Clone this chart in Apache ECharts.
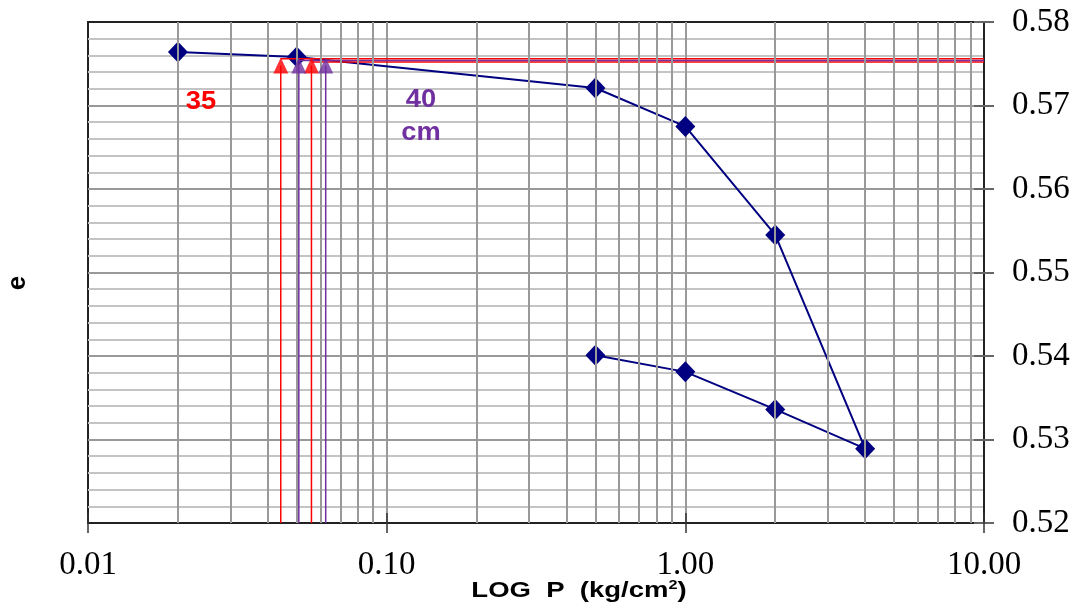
<!DOCTYPE html>
<html>
<head>
<meta charset="utf-8">
<script src="https://cdn.jsdelivr.net/npm/echarts@6/dist/echarts.min.js"></script>
<style>
  html, body { margin: 0; padding: 0; background: #fff; }
  #chart { width: 1083px; height: 610px; }
</style>
</head>
<body>
<div id="chart"></div>
<script>
  // consolidation curve, e vs log P
  const pressure = [0.02, 0.05, 0.5, 1, 2, 4, 2, 1, 0.5]
  const voidRatio = [0.5764, 0.5758, 0.5721, 0.5675, 0.5545, 0.5289, 0.5336, 0.5381, 0.5401]

  // construction lines (35 cm red, 40 cm purple)
  const redX = [0.0442, 0.056]
  const purpleX = [0.0508, 0.0625]
  const redLevel = [0.5756, 0.5752]
  const purpleLevel = 0.5754
  const arrowTop = 0.5748

  // minor log gridlines
  const minorGridX = [0.02, 0.03, 0.04, 0.05, 0.06, 0.07, 0.08, 0.09,
    0.2, 0.3, 0.4, 0.5, 0.6, 0.7, 0.8, 0.9,
    2, 3, 4, 5, 6, 7, 8, 9]

  const yTicks = { min: 0.52, max: 0.58, interval: 0.01 }
  const xTicks = { min: 0.01, max: 10 }

  const RED = '#ff0000'
  const PURPLE = '#7030a0'
  const NAVY = '#000080'

  const myChart = echarts.init(document.getElementById('chart'))

  let series = []
  // grid verticals behind everything
  series.push({
    type: 'line',
    data: [],
    silent: true,
    z: 1,
    markLine: {
      silent: true,
      symbol: 'none',
      label: { show: false },
      lineStyle: { color: '#999', width: 2, type: 'solid' },
      data: minorGridX.map((v) => ({ xAxis: v }))
    }
  })
  redX.forEach((x, i) => {
    series.push({
      type: 'line', z: 4, showSymbol: false, silent: true,
      lineStyle: { color: RED, width: 1.5 },
      data: [[x, yTicks.min], [x, arrowTop]]
    })
    series.push({
      type: 'line', z: 4, showSymbol: false, silent: true,
      lineStyle: { color: RED, width: 1.5 },
      data: [[x, redLevel[i]], [xTicks.max, redLevel[i]]]
    })
  })
  purpleX.forEach((x) => {
    series.push({
      type: 'line', z: 4, showSymbol: false, silent: true,
      lineStyle: { color: PURPLE, width: 1.5 },
      data: [[x, yTicks.min], [x, arrowTop]]
    })
  })
  series.push({
    type: 'line', z: 4, showSymbol: false, silent: true,
    lineStyle: { color: PURPLE, width: 1.5 },
    data: [[purpleX[0], purpleLevel], [xTicks.max, purpleLevel]]
  })
  series.push({
    type: 'line',
    z: 3,
    symbol: 'diamond',
    symbolSize: [20, 21],
    showAllSymbol: true,
    itemStyle: { color: NAVY, borderWidth: 0 },
    lineStyle: { color: NAVY, width: 2 },
    data: pressure.map((p, i) => [p, voidRatio[i]])
  })
  series.push({
    type: 'scatter', z: 6, silent: true,
    symbol: 'triangle', symbolSize: [15, 16],
    itemStyle: { color: RED },
    data: redX.map((x) => [x, arrowTop])
  })
  series.push({
    type: 'scatter', z: 6, silent: true,
    symbol: 'triangle', symbolSize: [15, 16],
    itemStyle: { color: PURPLE },
    data: purpleX.map((x) => [x, arrowTop])
  })

  const tickFont = { color: '#000', fontFamily: 'Liberation Serif', fontSize: 33 }

  let option = {
    animation: false,
    grid: {
      left: 88, right: 99, top: 22, bottom: 87,
      show: true, borderColor: '#222', borderWidth: 2
    },
    xAxis: [{
      type: 'log',
      logBase: 10,
      min: xTicks.min,
      max: xTicks.max,
      position: 'bottom',
      axisLine: { show: true, lineStyle: { color: '#222', width: 2 } },
      axisTick: { show: true, length: 10, lineStyle: { color: '#333', width: 1.5 } },
      axisLabel: Object.assign({ margin: 26, formatter: (v) => v.toFixed(2) }, tickFont),
      splitLine: { show: true, showMinLine: false, showMaxLine: false, lineStyle: { color: '#999', width: 2 } },
      minorTick: { show: false }
    }, {
      type: 'log',
      logBase: 10,
      min: xTicks.min,
      max: xTicks.max,
      position: 'bottom',
      axisLine: { show: false },
      axisTick: { show: true, inside: true, length: 10, lineStyle: { color: '#333', width: 1.5 } },
      axisLabel: { show: false },
      splitLine: { show: false }
    }],
    yAxis: [{
      type: 'value',
      min: yTicks.min,
      max: yTicks.max,
      interval: yTicks.interval,
      position: 'right',
      axisLine: { show: true, lineStyle: { color: '#222', width: 2 } },
      axisTick: { show: true, length: 10, lineStyle: { color: '#666', width: 2 } },
      axisLabel: Object.assign({ margin: 28, formatter: (v) => v.toFixed(2) }, tickFont),
      splitLine: { show: true, showMinLine: false, showMaxLine: false, lineStyle: { color: '#999', width: 2 } },
      minorTick: { show: false, splitNumber: 5 },
      minorSplitLine: { show: true, lineStyle: { color: '#c4c4c4', width: 2 } }
    }, {
      type: 'value',
      min: yTicks.min,
      max: yTicks.max,
      interval: yTicks.interval,
      position: 'right',
      axisLine: { show: false },
      axisTick: { show: true, inside: true, length: 10, lineStyle: { color: '#666', width: 2 } },
      axisLabel: { show: false },
      splitLine: { show: false }
    }],
    graphic: [
      { type: 'text', x: 18, y: 283, rotation: Math.PI / 2,
        style: { text: 'e', font: 'bold 26px "Liberation Sans", sans-serif', fill: '#000', align: 'center', verticalAlign: 'middle' } },
      { type: 'text', x: 579, y: 591, scaleX: 1.25,
        style: {
          text: '{t|LOG  P  (kg/cm}{sup|2}{t|)}',
          align: 'center', verticalAlign: 'middle',
          rich: {
            t: { fontFamily: 'Liberation Sans', fontWeight: 'bold', fontSize: 22, fill: '#000' },
            sup: { fontFamily: 'Liberation Sans', fontWeight: 'bold', fontSize: 13, padding: [0, 0, 12, 0], fill: '#000' }
          }
        } },
      { type: 'text', x: 201, y: 102, z: 10, scaleX: 1.05,
        style: { text: '35', font: 'bold 26px "Liberation Sans", sans-serif', fill: RED, align: 'center', verticalAlign: 'middle' } },
      { type: 'text', x: 421, y: 100, z: 10, scaleX: 1.05,
        style: { text: '40', font: 'bold 26px "Liberation Sans", sans-serif', fill: PURPLE, align: 'center', verticalAlign: 'middle' } },
      { type: 'text', x: 421, y: 133, z: 10, scaleX: 1.05,
        style: { text: 'cm', font: 'bold 26px "Liberation Sans", sans-serif', fill: PURPLE, align: 'center', verticalAlign: 'middle' } }
    ],
    series: series
  }
  myChart.setOption(option)
</script>
</body>
</html>
